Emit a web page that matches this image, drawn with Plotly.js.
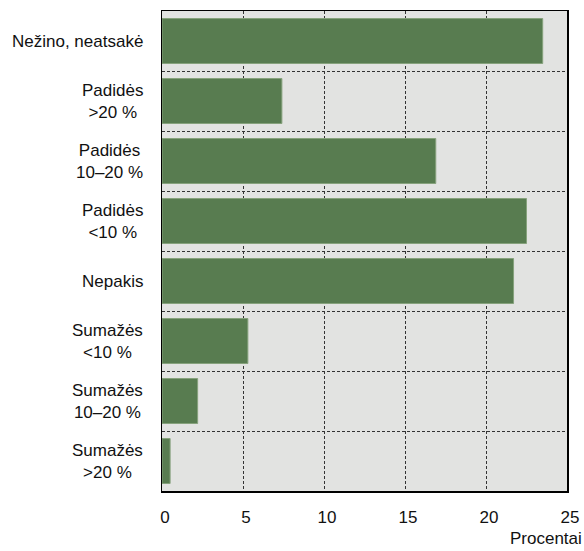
<!DOCTYPE html>
<html>
<head>
<meta charset="utf-8">
<script src="https://cdn.plot.ly/plotly-3.0.1.min.js"></script>
<style>
html,body{margin:0;padding:0;background:#fff;}
#chart{width:584px;height:551px;}
</style>
</head>
<body>
<div id="chart"></div>
<script>
var categories = [
  "Nežino, neatsakė",
  "Padidės<br>>20 %",
  "Padidės<br>10–20 %",
  "Padidės<br><10 %",
  "Nepakis",
  "Sumažės<br><10 %",
  "Sumažės<br>10–20 %",
  "Sumažės<br>>20 %"
];
var values = [23.5, 7.4, 16.9, 22.5, 21.7, 5.3, 2.2, 0.5];
var xTicks = [0, 5, 10, 15, 20, 25];
var xTitle = "Procentai";

var FONT = "'Liberation Sans', Arial, sans-serif";
var FS = 17;

var trace = {
  type: 'bar',
  orientation: 'h',
  x: values,
  y: categories,
  width: 0.75,
  marker: {color: '#587c50', line: {color: '#86a27c', width: 1}},
  hoverinfo: 'none'
};

var annotations = categories.map(function(c){
  return {
    xref: 'paper', x: 0, xanchor: 'right', xshift: -17,
    yref: 'y', y: c, yanchor: 'middle',
    text: c, align: 'center', showarrow: false,
    font: {family: FONT, size: FS, color: '#111'}
  };
});
annotations.push({
  xref: 'paper', x: 1, xanchor: 'right', xshift: 17,
  yref: 'paper', y: 0, yanchor: 'top', yshift: -36,
  text: xTitle, showarrow: false,
  font: {family: FONT, size: FS, color: '#111'}
});

var layout = {
  width: 584, height: 551,
  margin: {l: 162, r: 17, t: 11, b: 60},
  paper_bgcolor: '#ffffff',
  plot_bgcolor: '#e2e3e1',
  showlegend: false,
  font: {family: FONT, size: FS, color: '#111'},
  xaxis: {
    range: [0, 25],
    tickvals: xTicks,
    ticktext: xTicks.map(String),
    showgrid: true,
    gridcolor: '#333',
    griddash: '3px,2px',
    gridwidth: 1,
    zeroline: false,
    showline: true, linecolor: '#000', linewidth: 1.5, mirror: true,
    ticks: '',
    ticklabelstandoff: 10,
    ticklabelshift: 3,
    fixedrange: true
  },
  yaxis: {
    type: 'category',
    autorange: 'reversed',
    showticklabels: false,
    tickson: 'boundaries',
    showgrid: true,
    gridcolor: '#333',
    griddash: '3px,2px',
    gridwidth: 1,
    zeroline: false,
    showline: true, linecolor: '#000', linewidth: 1.5, mirror: true,
    ticks: '',
    fixedrange: true
  },
  annotations: annotations
};

Plotly.newPlot('chart', [trace], layout, {displayModeBar: false, staticPlot: true});
</script>
</body>
</html>
